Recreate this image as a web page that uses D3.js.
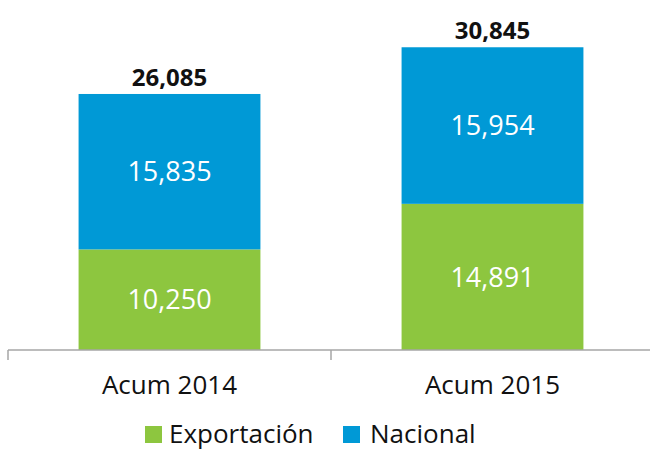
<!DOCTYPE html>
<html>
<head>
<meta charset="utf-8">
<script src="https://cdn.jsdelivr.net/npm/d3@7"></script>
<style>
  body { margin: 0; background: #fff; }
  text { font-family: "Open Sans", sans-serif; }
</style>
</head>
<body>
<div id="chart"></div>
<script>
var svgWidth = 650;
var svgHeight = 449;

// data
var categories = ["Acum 2014", "Acum 2015"];
var exportacion = [10250, 14891];
var nacional = [15835, 15954];
var seriesNames = ["Exportación", "Nacional"];
var colors = ["#8dc63f", "#0099d6"];

var fmt = d3.format(",");

var svg = d3.select("#chart")
    .append("svg")
    .attr("width", svgWidth)
    .attr("height", svgHeight);

var rows = categories.map(function(c, i) {
    return { cat: c, Exportación: exportacion[i], Nacional: nacional[i] };
});
var stacked = d3.stack().keys(seriesNames)(rows);

// scales
var xScale = d3.scaleBand()
    .domain(categories)
    .range([8, 654])
    .paddingInner(0.437)
    .paddingOuter(0.2185);

var yScale = d3.scaleLinear()
    .domain([0, 35660])
    .range([350, 0]);

// bars
var layers = svg.selectAll("g.layer")
    .data(stacked)
    .enter()
    .append("g")
    .attr("class", "layer")
    .attr("fill", (d, i) => colors[i]);

layers.selectAll("rect")
    .data(d => d)
    .enter()
    .append("rect")
    .attr("x", d => xScale(d.data.cat))
    .attr("y", d => yScale(d[1]))
    .attr("width", xScale.bandwidth())
    .attr("height", d => yScale(d[0]) - yScale(d[1]));

// value labels inside segments
layers.selectAll("text")
    .data(d => d)
    .enter()
    .append("text")
    .attr("x", d => xScale(d.data.cat) + xScale.bandwidth() / 2)
    .attr("y", d => (yScale(d[0]) + yScale(d[1])) / 2)
    .attr("dy", "0.36em")
    .attr("text-anchor", "middle")
    .attr("fill", "#fff")
    .attr("font-size", 27)
    .text(d => fmt(d[1] - d[0]));

// totals
svg.selectAll("text.total")
    .data(rows)
    .enter()
    .append("text")
    .attr("class", "total")
    .attr("x", d => xScale(d.cat) + xScale.bandwidth() / 2)
    .attr("y", d => yScale(d.Exportación + d.Nacional) - 8)
    .attr("text-anchor", "middle")
    .attr("font-size", 24)
    .attr("font-weight", "bold")
    .attr("fill", "#111")
    .text(d => fmt(d.Exportación + d.Nacional));

// x axis: line with ticks between categories
var step = xScale.step();
var half = step * xScale.paddingInner() / 2;
var axisG = svg.append("g").attr("transform", "translate(0," + yScale(0) + ")");
axisG.append("line")
    .attr("x1", xScale(categories[0]) - half)
    .attr("x2", svgWidth)
    .attr("stroke", "#a6a6a6")
    .attr("stroke-width", 1.5);

var tickXs = categories.map(c => xScale(c) - half);
tickXs.push(xScale(categories[categories.length - 1]) + xScale.bandwidth() + half);
axisG.selectAll("line.tick")
    .data(tickXs)
    .enter()
    .append("line")
    .attr("class", "tick")
    .attr("x1", d => d)
    .attr("x2", d => d)
    .attr("y1", 0)
    .attr("y2", 10)
    .attr("stroke", "#a6a6a6")
    .attr("stroke-width", 1.5);

axisG.selectAll("text")
    .data(categories)
    .enter()
    .append("text")
    .attr("x", d => xScale(d) + xScale.bandwidth() / 2)
    .attr("y", 44)
    .attr("text-anchor", "middle")
    .attr("font-size", 26)
    .attr("fill", "#111")
    .text(d => d);

// legend (pulled up a little so descenders stay inside the page)
var legendX = [145, 343];
var legend = svg.selectAll("g.legend")
    .data(seriesNames)
    .enter()
    .append("g")
    .attr("class", "legend")
    .attr("transform", (d, i) => "translate(" + legendX[i] + ",426)");

legend.append("rect")
    .attr("width", 17)
    .attr("height", 17)
    .attr("fill", (d, i) => colors[i]);

legend.append("text")
    .attr("x", (d, i) => i === 0 ? 24 : 27)
    .attr("y", 17)
    .attr("font-size", 26)
    .attr("fill", "#111")
    .text(d => d);
</script>
</body>
</html>
